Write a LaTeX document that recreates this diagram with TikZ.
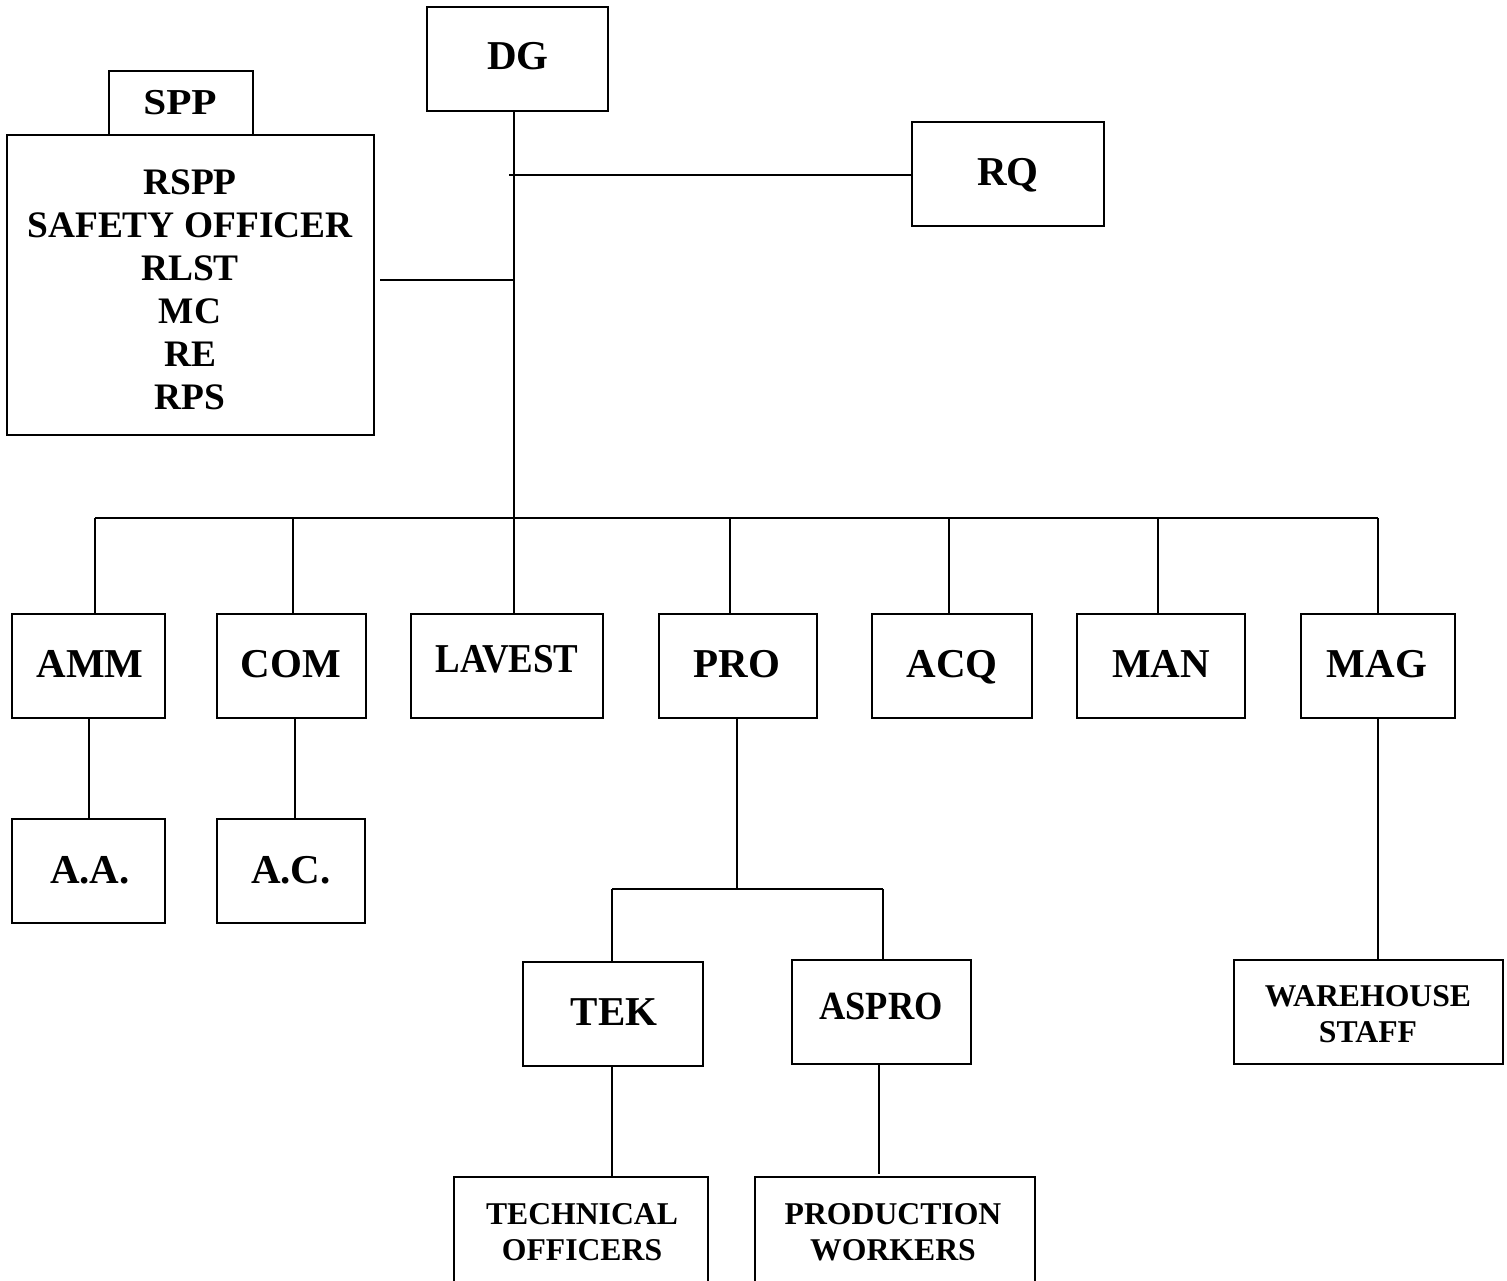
\documentclass[tikz,border=0pt]{standalone}
\usepackage{fontspec}
\setmainfont{Liberation Serif}
\begin{document}
\begin{tikzpicture}[x=1pt,y=-1pt,
  box/.style={draw, line width=2pt, inner sep=0pt, minimum height=104pt},
  conn/.style={line width=2pt},
  lbl/.style={inner sep=0pt, align=center, text depth=0pt, font=\bfseries\fontsize{41}{48}\selectfont},
  sml/.style={inner sep=0pt, align=center, text depth=0pt, font=\bfseries\fontsize{31.7}{36}\selectfont},
  lst/.style={inner sep=0pt, align=center, text depth=0pt, font=\bfseries\fontsize{37.4}{43}\selectfont}]
\useasboundingbox (0,0) rectangle (1507,1281);
\clip (0,0) rectangle (1507,1281);
% boxes
\node[box, minimum width=181pt] (dg) at (517.5,59) {};
\node[box, minimum width=144pt, minimum height=64pt] (spp) at (181,103) {};
\node[box, minimum width=367pt, minimum height=300pt] (saf) at (190.5,285) {};
\node[box, minimum width=192pt] (rq) at (1008,174) {};
\node[box, minimum width=153pt] (amm) at (88.5,666) {};
\node[box, minimum width=149pt] (com) at (291.5,666) {};
\node[box, minimum width=192pt] (lav) at (507,666) {};
\node[box, minimum width=158pt] (pro) at (738,666) {};
\node[box, minimum width=160pt] (acq) at (952,666) {};
\node[box, minimum width=168pt] (man) at (1161,666) {};
\node[box, minimum width=154pt] (mag) at (1378,666) {};
\node[box, minimum width=153pt] (aa) at (88.5,871) {};
\node[box, minimum width=148pt] (ac) at (291,871) {};
\node[box, minimum width=180pt] (tek) at (613,1014) {};
\node[box, minimum width=179pt] (aspro) at (881.5,1012) {};
\node[box, minimum width=254pt, minimum height=113pt] (tech) at (581,1233.5) {};
\node[box, minimum width=280pt, minimum height=113pt] (prod) at (895,1233.5) {};
\node[box, minimum width=269pt] (wh) at (1368.5,1012) {};
% labels
\node[lbl] (dgt) at (518,56) {DG};
\node[lbl, font=\bfseries\fontsize{36.5}{42}\selectfont, xscale=1.13] (sppt) at (180,102) {SPP};
\node[lst] (saft) at (190,289.5) {RSPP\\SAFETY OFFICER\\RLST\\MC\\RE\\RPS};
\node[lbl] (rqt) at (1008,172) {RQ};
\node[lbl] (ammt) at (90,664) {AMM};
\node[lbl] (comt) at (291,664) {COM};
\node[lbl, xscale=0.9] (lavt) at (507,659) {LAVEST};
\node[lbl] (prot) at (737,664) {PRO};
\node[lbl] (acqt) at (952,664) {ACQ};
\node[lbl] (mant) at (1161,664) {MAN};
\node[lbl] (magt) at (1377,664) {MAG};
\node[lbl] (aat) at (90,870) {A.A.};
\node[lbl] (act) at (291,870) {A.C.};
\node[lbl] (tekt) at (614,1012) {TEK};
\node[lbl, font=\bfseries\fontsize{40}{46}\selectfont, xscale=0.91] (asprot) at (881,1006) {ASPRO};
\node[sml] (techt) at (582,1232) {TECHNICAL\\OFFICERS};
\node[sml] (prodt) at (893,1232) {PRODUCTION\\WORKERS};
\node[sml] (wht) at (1368,1013.5) {WAREHOUSE\\STAFF};
% junction coordinates
\coordinate (j0) at (514,518);
\coordinate (jrq) at (509,175);
\coordinate (js) at (380,280);
\coordinate (jsm) at (514,280);
\coordinate (bl) at (95,518);
\coordinate (br) at (1378,518);
\coordinate (b2) at (293,518);
\coordinate (b4) at (730,518);
\coordinate (b5) at (949,518);
\coordinate (b6) at (1158,518);
\coordinate (pj) at (737,889);
\coordinate (pl) at (612,889);
\coordinate (pr) at (883,889);
% connectors
\draw[conn] (dg.south -| j0) -- (j0);
\draw[conn] (jrq) -- (rq.west |- jrq);
\draw[conn] (js) -- (jsm);
\draw[conn] (bl) -- (br);
\draw[conn] (bl) -- (bl |- amm.north);
\draw[conn] (b2) -- (b2 |- com.north);
\draw[conn] (j0) -- (j0 |- lav.north);
\draw[conn] (b4) -- (b4 |- pro.north);
\draw[conn] (b5) -- (b5 |- acq.north);
\draw[conn] (b6) -- (b6 |- man.north);
\draw[conn] (br) -- (br |- mag.north);
\draw[conn] (amm.south -| 89,0) -- (aa.north -| 89,0);
\draw[conn] (com.south -| 295,0) -- (ac.north -| 295,0);
\draw[conn] (pro.south -| pj) -- (pj);
\draw[conn] (pl) -- (pr);
\draw[conn] (pl) -- (pl |- tek.north);
\draw[conn] (pr) -- (pr |- aspro.north);
\draw[conn] (tek.south -| 612,0) -- (tech.north -| 612,0);
\draw[conn] (aspro.south -| 879,0) -- (879,1174);
\draw[conn] (mag.south -| br) -- (wh.north -| br);
\end{tikzpicture}
\end{document}
